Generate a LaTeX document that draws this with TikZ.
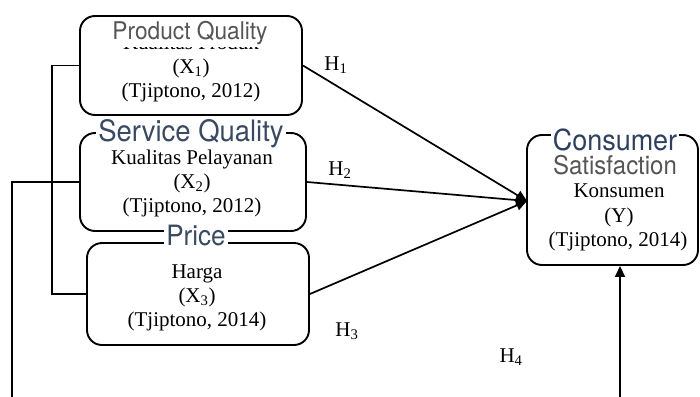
\documentclass[tikz,border=0pt]{standalone}
\usepackage{fontspec}
\setmainfont{Liberation Serif}
\newfontfamily\titlefont[FakeStretch=0.93]{TeX Gyre Heros}
\usetikzlibrary{arrows.meta}
\definecolor{tgray}{HTML}{555555}
\definecolor{tblue}{HTML}{3A4A62}
\definecolor{tblueb}{HTML}{2F3F5F}
\begin{document}
\begin{tikzpicture}[x=1pt,y=-1pt,
  varbox/.style={draw=black,line width=1.9pt,rounded corners=15pt,inner sep=0pt},
  txt/.style={anchor=base,inner sep=0pt,font=\fontsize{21}{24}\selectfont},
  ttl/.style={anchor=base,fill=white,inner xsep=2pt,inner ysep=1.5pt},
  conn/.style={line width=1.7pt},
  arr/.style={line width=1.7pt,-{Triangle[length=11pt,width=10pt]}}]
\path[fill=white] (0,0) rectangle (700,396);
\useasboundingbox (0,0) rectangle (700,396);
% boxes
\node[varbox,minimum width=222pt,minimum height=99pt] (b1) at (191,65.5) {};
\node[varbox,minimum width=226pt,minimum height=98pt] (b2) at (193,182) {};
\node[varbox,minimum width=222pt,minimum height=102pt] (b3) at (198,294) {};
\node[varbox,minimum width=171pt,minimum height=130pt] (b4) at (612.5,200) {};
% box 1 text
\node[txt] (k1) at (191,49) {Kualitas Produk};
\node[ttl,text=tgray,font=\titlefont\fontsize{24.4}{26}\selectfont] (t1) at (190,40) {Product Quality};
\node[txt] (x1) at (191,73) {(X\textsubscript{1})};
\node[txt] (c1) at (191,97) {(Tjiptono, 2012)};
% box 2 text
\node[ttl,text=tblue,font=\titlefont\fontsize{29.5}{31}\selectfont] (t2) at (191,141) {Service Quality};
\node[txt] (k2) at (192,164) {Kualitas Pelayanan};
\node[txt] (x2) at (192,188) {(X\textsubscript{2})};
\node[txt] (c2) at (192,212) {(Tjiptono, 2012)};
% box 3 text
\node[ttl,text=tblue,font=\titlefont\fontsize{28}{30}\selectfont] (t3) at (196,245) {Price};
\node[txt] (k3) at (197,278) {Harga};
\node[txt] (x3) at (197,302) {(X\textsubscript{3})};
\node[txt] (c3) at (197,326) {(Tjiptono, 2014)};
% box 4 text
\node[ttl,text=tblueb,font=\titlefont\fontsize{29}{31}\selectfont] (t4) at (615,150) {Consumer};
\node[txt,text=tgray,font=\titlefont\fontsize{25.8}{27}\selectfont] (s4) at (615,174) {Satisfaction};
\node[txt] (k4) at (619,197) {Konsumen};
\node[txt] (y4) at (619,222) {(Y)};
\node[txt] (c4) at (618,246) {(Tjiptono, 2014)};
% arrows
\coordinate (tip) at (527,201);
\draw[arr] (b1.east) -- (tip);
\draw[arr] (b2.east) -- (tip);
\draw[arr] (b3.east) -- (tip);
\coordinate (bot4) at (620,398);
\draw[arr] (bot4) -- (b4.south -| bot4);
% left connectors
\draw[conn] (b1.west) -- ++(-27,0) |- (b3.west);
\coordinate (botL) at (12,398);
\draw[conn] (b2.west) -| (botL);
% hypothesis labels
\node[txt] (h1) at (336,70) {H\textsubscript{1}};
\node[txt] (h2) at (340,175) {H\textsubscript{2}};
\node[txt] (h3) at (347,336) {H\textsubscript{3}};
\node[txt] (h4) at (511,362) {H\textsubscript{4}};
\end{tikzpicture}
\end{document}
